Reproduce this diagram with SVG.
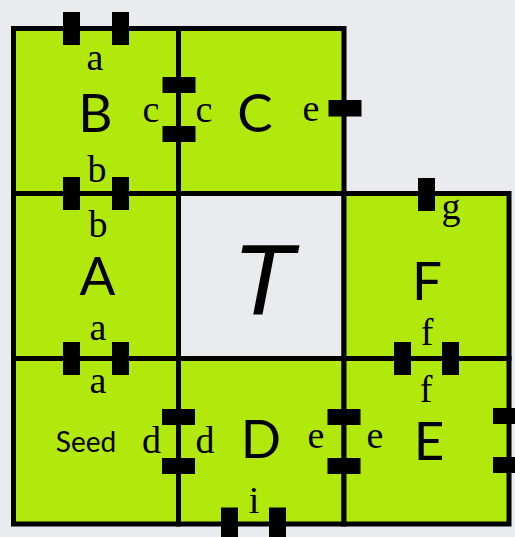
<svg xmlns="http://www.w3.org/2000/svg" width="515" height="537" viewBox="0 0 515 537">
  <style>
    .tile { fill: #b2e90d; stroke: #000; stroke-width: 5; }
    .empty { fill: #e9ebef; stroke: #000; stroke-width: 5; }
    .glue { font-family: "Liberation Serif", "Times New Roman", serif; font-size: 38px; text-anchor: middle; fill: #000; }
    .name { font-family: "Lato", "Liberation Sans", sans-serif; font-size: 53px; text-anchor: middle; fill: #000; }
    .seed { font-family: "Lato", "Liberation Sans", sans-serif; font-size: 28px; text-anchor: middle; fill: #000; }
    .tt { font-family: "Liberation Sans", sans-serif; font-style: italic; font-size: 100px; text-anchor: middle; fill: #000; }
    .tab { fill: #000; }
  </style>
  <rect x="0" y="0" width="515" height="537" fill="#e9ebef"/>

  <g id="tile-B">
    <rect class="tile" x="13.5" y="28.5" width="165" height="165"/>
    <text class="glue" x="95" y="70">a</text>
    <text class="name" x="95.5" y="131.5">B</text>
    <text class="glue" x="97" y="181.5">b</text>
    <text class="glue" x="151" y="121.5">c</text>
  </g>
  <g id="tile-C">
    <rect class="tile" x="178.5" y="28.5" width="165.5" height="165"/>
    <text class="glue" x="204" y="121.5">c</text>
    <text class="name" x="255" y="132">C</text>
    <text class="glue" x="311" y="121">e</text>
  </g>
  <g id="tile-A">
    <rect class="tile" x="13.5" y="193.5" width="165" height="165"/>
    <text class="glue" x="98" y="236.5">b</text>
    <text class="name" x="97.5" y="295">A</text>
    <text class="glue" x="98" y="340">a</text>
  </g>
  <g id="tile-T">
    <rect class="empty" x="178.5" y="193.5" width="165.5" height="165"/>
    <text class="tt" x="263" y="314">T</text>
  </g>
  <g id="tile-F">
    <rect class="tile" x="344" y="193.5" width="165" height="165"/>
    <text class="glue" x="451" y="219">g</text>
    <text class="name" x="427" y="300">F</text>
    <text class="glue" x="427" y="345">f</text>
  </g>
  <g id="tile-Seed">
    <rect class="tile" x="13.5" y="358.5" width="165" height="165.5"/>
    <text class="glue" x="98" y="393">a</text>
    <text class="seed" x="86" y="452">Seed</text>
    <text class="glue" x="151.5" y="453">d</text>
  </g>
  <g id="tile-D">
    <rect class="tile" x="178.5" y="358.5" width="165.5" height="165.5"/>
    <text class="glue" x="205" y="453">d</text>
    <text class="name" x="261" y="458">D</text>
    <text class="glue" x="316" y="448">e</text>
    <text class="glue" x="254" y="513">i</text>
  </g>
  <g id="tile-E">
    <rect class="tile" x="344" y="358.5" width="165" height="165.5"/>
    <text class="glue" x="375" y="448">e</text>
    <text class="name" x="429" y="460">E</text>
    <text class="glue" x="426" y="401.5">f</text>
  </g>

  <g id="connectors">
    <!-- tabs on horizontal edges -->
    <rect class="tab" x="63" y="12" width="17" height="33"/>
    <rect class="tab" x="112" y="12" width="17" height="33"/>
    <rect class="tab" x="63" y="177" width="17" height="33"/>
    <rect class="tab" x="112" y="177" width="17" height="33"/>
    <rect class="tab" x="63" y="342" width="17" height="33"/>
    <rect class="tab" x="112" y="342" width="17" height="33"/>
    <rect class="tab" x="418" y="178" width="17" height="33"/>
    <rect class="tab" x="394" y="342" width="17" height="33"/>
    <rect class="tab" x="442" y="342" width="17" height="33"/>
    <rect class="tab" x="221" y="507.5" width="17" height="33"/>
    <rect class="tab" x="269" y="507.5" width="17" height="33"/>
    <!-- tabs on vertical edges -->
    <rect class="tab" x="162.5" y="77" width="33" height="16"/>
    <rect class="tab" x="162.5" y="126" width="33" height="16"/>
    <rect class="tab" x="328.5" y="100" width="33" height="16.5"/>
    <rect class="tab" x="162" y="409" width="33" height="16"/>
    <rect class="tab" x="162" y="458" width="33" height="16"/>
    <rect class="tab" x="327.5" y="409" width="33" height="16"/>
    <rect class="tab" x="327.5" y="458" width="33" height="16"/>
    <rect class="tab" x="493" y="408" width="33" height="16"/>
    <rect class="tab" x="493" y="457" width="33" height="16"/>
  </g>
</svg>
